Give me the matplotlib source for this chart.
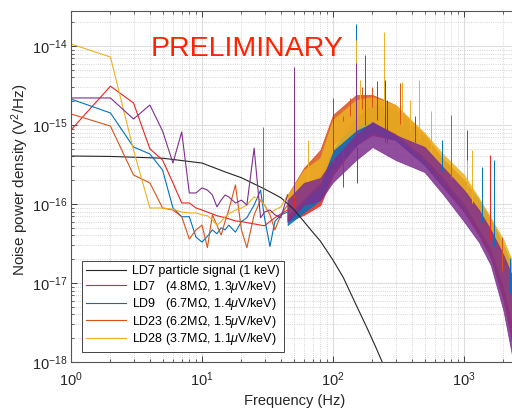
import numpy as np
import matplotlib.pyplot as plt

plt.rcParams['font.family'] = ['Liberation Sans', 'DejaVu Sans']
plt.rcParams['mathtext.fontset'] = 'custom'
plt.rcParams['mathtext.rm'] = 'Liberation Sans'
plt.rcParams['mathtext.it'] = 'Liberation Sans:italic'

# particle signal (LD7, 1 keV)
sig_f = [1, 2, 5, 10, 15, 20, 30, 40, 50, 60, 70, 80, 100, 120, 150, 180, 210, 240]
sig_v = [4.05e-16, 4.0e-16, 3.8e-16, 3.3e-16, 2.55e-16, 2.15e-16, 1.55e-16, 1.2e-16,
         8.6e-17, 6.0e-17, 4.4e-17, 3.4e-17, 1.95e-17, 1.17e-17, 5.3e-18, 2.8e-18,
         1.6e-18, 9.6e-19]

# low frequency part of the noise spectra (1 Hz bins)
f_low = [1, 2, 3, 4, 5, 6, 7, 8, 9, 10, 11, 12, 13, 14, 15, 16, 18, 20, 22, 25, 28, 30, 33, 36, 40, 45]
ld7_low = [8.65e-16, 3.1e-15, 1.9e-15, 5.0e-16, 3.6e-16, 1.85e-16, 1.03e-16, 1.03e-16, 8.9e-17,
           8.4e-17, 7.9e-17, 7.5e-17, 7.1e-17, 6.9e-17, 6.7e-17, 6.5e-17, 6.1e-17, 6.0e-17,
           5.8e-17, 5.6e-17, 5.4e-17, 5.3e-17, 6.0e-17, 6.7e-17, 7.5e-17, 8.4e-17]
ld9_low = [2.13e-15, 1.42e-15, 5.27e-16, 4.3e-16, 2.69e-16, 8.9e-17, 6.9e-17, 6.9e-17, 3.8e-17,
           3.3e-17, 3.9e-17, 4.7e-17, 4.2e-17, 5.0e-17, 4.7e-17, 5.4e-17, 4.4e-17, 6.0e-17,
           6.7e-17, 9.7e-17, 1.5e-16, 6.7e-17, 2.9e-17, 6.0e-17, 7.3e-17, 7.9e-17]
ld23_low = [1.38e-15, 9.7e-16, 2.33e-16, 1.85e-16, 8.9e-17, 8.4e-17, 6.9e-17, 3.6e-17, 4.7e-17,
            5.4e-17, 2.8e-17, 7.3e-17, 5.4e-17, 4.05e-17, 6.0e-17, 8.4e-17, 1.74e-16, 4.7e-17,
            2.8e-17, 7.3e-17, 1.12e-16, 9.7e-17, 7.3e-17, 4.7e-17, 7.3e-17, 9.7e-17]
ld28_low = [1.06e-14, 7.26e-15, 4.83e-16, 8.9e-17, 8.9e-17, 8.6e-17, 7.9e-17, 7.7e-17, 7.7e-17,
            7.3e-17, 7.1e-17, 6.3e-17, 5.4e-17, 6.0e-17, 6.9e-17, 7.5e-17, 8.4e-17, 8.9e-17,
            9.7e-17, 1.23e-16, 1.12e-16, 9.7e-17, 7.7e-17, 8.4e-17, 9.2e-17, 1.3e-16]
ldx_low = [2.2e-15, 2.2e-15, 1.19e-15, 1.79e-15, 8.4e-16, 3.3e-16, 8.15e-16, 1.38e-16, 1.38e-16,
           1.6e-16, 1.5e-16, 1.3e-16, 9.2e-17, 1.12e-16, 1.3e-16, 1.23e-16, 1.03e-16, 1.12e-16,
           9.7e-17, 5.1e-16, 6.7e-17, 7.9e-17, 8.4e-17, 7.3e-17, 6.7e-17, 1.3e-16]

# high frequency part: upper / lower edge of the noise band
f_band = [45, 60, 80, 100, 150, 200, 300, 500, 700, 1000, 1300, 1600, 2000, 2400]
ld7_hi = [9.7e-17, 1.5e-16, 2.13e-16, 4.83e-16, 1.16e-15, 1.55e-15, 1.46e-15, 6.46e-16, 3.4e-16, 1.85e-16, 9.7e-17, 5.4e-17, 2.6e-17, 1.09e-17]
ld7_lo = [6.0e-17, 7.3e-17, 9.7e-17, 2.33e-16, 5.58e-16, 7.47e-16, 6.46e-16, 3.12e-16, 1.6e-16, 7.9e-17, 4.05e-17, 2.1e-17, 6.1e-18, 1.4e-18]
ld9_hi = [1.12e-16, 1.74e-16, 2.33e-16, 4.83e-16, 1.23e-15, 1.79e-15, 1.55e-15, 6.85e-16, 3.61e-16, 2.01e-16, 1.12e-16, 6.3e-17, 3.0e-17, 1.46e-17]
ld9_lo = [5.4e-17, 7.9e-17, 1.12e-16, 2.69e-16, 5.58e-16, 7.92e-16, 6.46e-16, 3.12e-16, 1.69e-16, 8.4e-17, 4.4e-17, 2.26e-17, 7.0e-18, 1.9e-18]
ld23_hi = [1.3e-16, 2.86e-16, 4.83e-16, 1.34e-15, 2.4e-15, 2.4e-15, 1.79e-15, 7.47e-16, 3.61e-16, 2.01e-16, 9.7e-17, 5.4e-17, 2.6e-17, 1.09e-17]
ld23_lo = [6.3e-17, 1.12e-16, 1.74e-16, 5.58e-16, 1.0e-15, 1.16e-15, 7.47e-16, 3.61e-16, 1.85e-16, 8.9e-17, 4.05e-17, 2.1e-17, 6.1e-18, 1.4e-18]
ld28_hi = [1.3e-16, 2.69e-16, 3.82e-16, 1.16e-15, 2.07e-15, 2.26e-15, 1.79e-15, 7.92e-16, 4.17e-16, 2.33e-16, 1.19e-16, 6.7e-17, 3.5e-17, 1.69e-17]
ld28_lo = [7.3e-17, 1.19e-16, 1.9e-16, 4.83e-16, 8.65e-16, 1.09e-15, 7.92e-16, 3.94e-16, 2.13e-16, 1.03e-16, 4.97e-17, 2.8e-17, 9.5e-18, 2.5e-18]
ldx_hi = [1.12e-16, 1.85e-16, 2.13e-16, 3.61e-16, 7.47e-16, 1.09e-15, 7.47e-16, 5.27e-16, 2.86e-16, 1.5e-16, 8.4e-17, 4.7e-17, 2.26e-17, 1.09e-17]
ldx_lo = [6.0e-17, 9.7e-17, 1.12e-16, 1.9e-16, 3.61e-16, 5.27e-16, 3.61e-16, 2.54e-16, 1.3e-16, 6.0e-17, 3.3e-17, 1.69e-17, 4.5e-18, 9.4e-19]

# line spikes (frequency, peak value)
ld7_spk_f = [50, 100, 1580]
ld7_spk_v = [2.8e-15, 2.2e-15, 4.2e-16]
ld9_spk_f = [119, 150, 176, 215, 420, 680, 1050, 1370, 1700, 2250]
ld9_spk_v = [1.66e-16, 1.9e-14, 7.7e-15, 3.6e-15, 1.3e-15, 6.5e-16, 8.6e-16, 2.9e-16, 3.6e-16, 2.1e-17]
ld23_spk_f = [29, 50, 119, 134, 166, 200, 324, 790, 1950]
ld23_spk_v = [9.4e-16, 3.5e-15, 1.3e-15, 2.2e-15, 3.0e-15, 3.0e-15, 3.4e-15, 1.34e-15, 3.8e-17]
ld28_spk_f = [50, 64, 150, 161, 245, 335, 390, 450, 560, 1050, 1160]
ld28_spk_v = [3.2e-15, 6.5e-16, 1.2e-14, 3.7e-15, 1.5e-14, 3.5e-15, 2.1e-15, 3.7e-15, 1.5e-15, 3.6e-16, 4.8e-16]
ldx_spk_f = [50, 150, 153, 250, 258]
ldx_spk_v = [5.4e-15, 6.1e-15, 1.85e-16, 3.7e-15, 2.07e-15]

labels = ['LD7 particle signal (1 keV)',
          'LD7   (4.8M\u03a9, 1.3$\\mu$V/keV)',
          'LD9   (6.7M\u03a9, 1.4$\\mu$V/keV)',
          'LD23 (6.2M\u03a9, 1.5$\\mu$V/keV)',
          'LD28 (3.7M\u03a9, 1.1$\\mu$V/keV)']

x_ticks = [1, 10, 100, 1000]
y_ticks = [1e-18, 1e-17, 1e-16, 1e-15, 1e-14]

fig = plt.figure(figsize=(5.12, 4.09), dpi=100)
ax = fig.add_axes([71 / 512, 47 / 409, 441 / 512, 351 / 409])


def draw_noise(color, low, hi, lo, spk_f, spk_v, label=None):
    ax.plot(f_low, low, color=color, lw=0.8, label=label)
    ax.fill_between(f_band, lo, hi, color=color, lw=0.6, alpha=0.85)
    # spikes start from the middle of the band / the low-frequency line
    all_f = np.log10(f_low + f_band[1:])
    mid = np.sqrt(np.array(hi[1:]) * np.array(lo[1:]))
    all_v = np.log10(np.concatenate([low, mid]))
    base = 10 ** np.interp(np.log10(spk_f), all_f, all_v)
    ax.vlines(spk_f, base, spk_v, color=color, lw=0.7)


ax.plot(sig_f, sig_v, color='#262626', lw=0.8, label=labels[0])
draw_noise('#E8251F', ld7_low, ld7_hi, ld7_lo, ld7_spk_f, ld7_spk_v, labels[1])
draw_noise('#0072BD', ld9_low, ld9_hi, ld9_lo, ld9_spk_f, ld9_spk_v, labels[2])
draw_noise('#D95319', ld23_low, ld23_hi, ld23_lo, ld23_spk_f, ld23_spk_v, labels[3])
draw_noise('#EDB120', ld28_low, ld28_hi, ld28_lo, ld28_spk_f, ld28_spk_v, labels[4])
draw_noise('#7E2F8E', ldx_low, ldx_hi, ldx_lo, ldx_spk_f, ldx_spk_v)

ax.set_xscale('log')
ax.set_yscale('log')
ax.set_xticks(x_ticks)
ax.set_yticks(y_ticks)
ax.set_xlim(1, 10 ** (441 / 131))
ax.set_ylim(1e-18, 10 ** (-18 + 351 / 79))

ax.grid(True, which='major', color='#dedede', lw=0.8, ls='-')
ax.grid(True, which='minor', color='#c8c8c8', lw=0.6, ls=':')
ax.set_axisbelow(True)
ax.tick_params(which='both', direction='in', top=True, right=False, colors='#262626', labelsize=10.5)
ax.tick_params(which='major', length=4, width=0.6)
ax.tick_params(which='minor', length=2.5, width=0.5)
ax.tick_params(axis='x', pad=6)
ax.tick_params(axis='y', pad=2.5)
for s in ['left', 'bottom', 'top']:
    ax.spines[s].set_color('#555555')
    ax.spines[s].set_linewidth(0.8)
ax.spines['right'].set_visible(False)

ax.set_xlabel('Frequency (Hz)', fontsize=10.5, color='#262626')
ax.xaxis.set_label_coords(0.508, -0.091)
ax.set_ylabel('Noise power density (V$^2$/Hz)', fontsize=11, color='#262626')
ax.yaxis.set_label_coords(-0.09, 0.518)

leg = ax.legend(loc='upper left', bbox_to_anchor=(0.024, 0.288), borderaxespad=0,
                fontsize=9, handlelength=3.2, labelspacing=0.12, fancybox=False,
                framealpha=1, edgecolor='#262626', borderpad=0.35, handletextpad=0.5)
leg.get_frame().set_linewidth(0.6)

fig.text(247.5 / 512, 1 - 56 / 409, 'PRELIMINARY', color='#FF2200', fontsize=20.5,
         ha='center', va='baseline')

fig.savefig('out.png', dpi=100)
